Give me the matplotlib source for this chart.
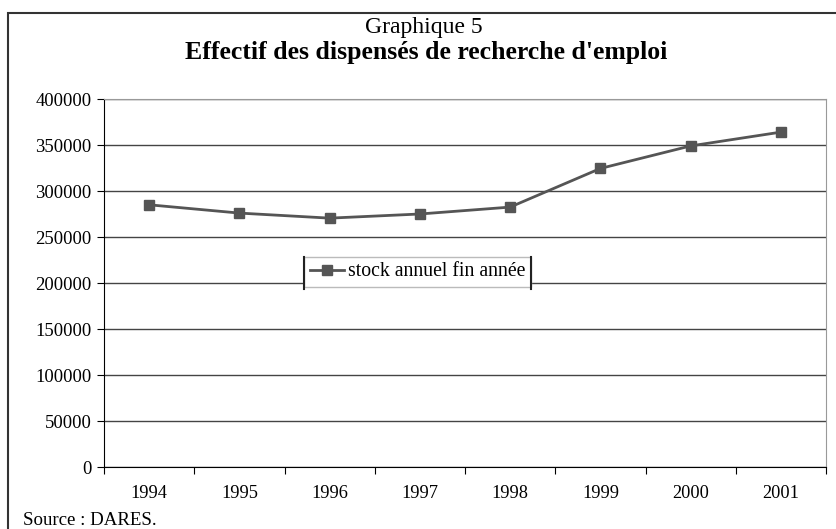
import numpy as np
import matplotlib
matplotlib.use('Agg')
import matplotlib.pyplot as plt
from matplotlib.patches import Rectangle
from matplotlib.lines import Line2D

plt.rcParams['font.family'] = ['Liberation Serif', 'DejaVu Serif']

# Donnees
annees = ['1994', '1995', '1996', '1997', '1998', '1999', '2000', '2001']
stock = [285000, 276000, 270500, 275000, 282500, 324500, 349000, 364000]
yticks = [0, 50000, 100000, 150000, 200000, 250000, 300000, 350000, 400000]

fig = plt.figure(figsize=(8.36, 5.29), dpi=100)
ax = fig.add_axes([104/836, 1-467/529, (826-104)/836, (467-99)/529])

x = np.arange(len(annees))
ax.plot(x, stock, '-s', color='#555555', lw=2, ms=7,
        label='stock annuel fin année', zorder=3)

ax.set_xlim(-0.5, len(annees) - 0.5)
ax.set_ylim(0, 400000)
ax.set_yticks(yticks)
ax.set_yticklabels([str(v) for v in yticks], fontsize=13.4)

# graduations entre les categories
ax.set_xticks(np.arange(-0.5, len(annees), 1.0))
ax.set_xticklabels([])
ax.set_xticks(x, minor=True)
ax.set_xticklabels(annees, minor=True, fontsize=13.2)
ax.tick_params(axis='x', which='major', direction='out', length=5, color='black')
ax.tick_params(axis='x', which='minor', length=0, pad=13)
ax.tick_params(axis='y', direction='out', length=5, pad=4)

ax.grid(axis='y', color='#444444', lw=1)
ax.set_axisbelow(True)
ax.spines['top'].set_color('#999999')
ax.spines['right'].set_color('#999999')
ax.spines['left'].set_color('black')
ax.spines['bottom'].set_color('black')

leg = ax.legend(loc='center', bbox_to_anchor=((417.5-104)/722, (467-272)/368),
                fontsize=14.2, frameon=True, fancybox=False, framealpha=1,
                borderpad=0.3, handlelength=1.7, handletextpad=0.2,
                borderaxespad=0)
leg.get_frame().set_edgecolor('#bbbbbb')
leg.get_frame().set_linewidth(1)

# Titre
fig.text(424/836, 1-33/529, 'Graphique 5', ha='center', va='baseline', fontsize=17)
fig.text(426/836, 1-59/529, "Effectif des dispensés de recherche d'emploi",
         ha='center', va='baseline', fontsize=18.5, fontweight='bold')
fig.text(23/836, 1-525/529, 'Source : DARES.', ha='left', va='baseline', fontsize=13.6)

# cadre exterieur
fig.patches.append(Rectangle((8/836, -0.1), 1.2, 1-13/529+0.1, transform=fig.transFigure,
                             fill=False, edgecolor='#333333', lw=1.5))

# traits fonces sur les cotes de la legende
fig.canvas.draw()
bb = leg.get_window_extent().transformed(fig.transFigure.inverted())
for xx in (bb.x0, bb.x1):
    fig.lines.append(Line2D([xx, xx], [bb.y0 - 2/529, bb.y1], transform=fig.transFigure,
                            color='#222222', lw=1.5))

fig.savefig('out.png', dpi=100)
